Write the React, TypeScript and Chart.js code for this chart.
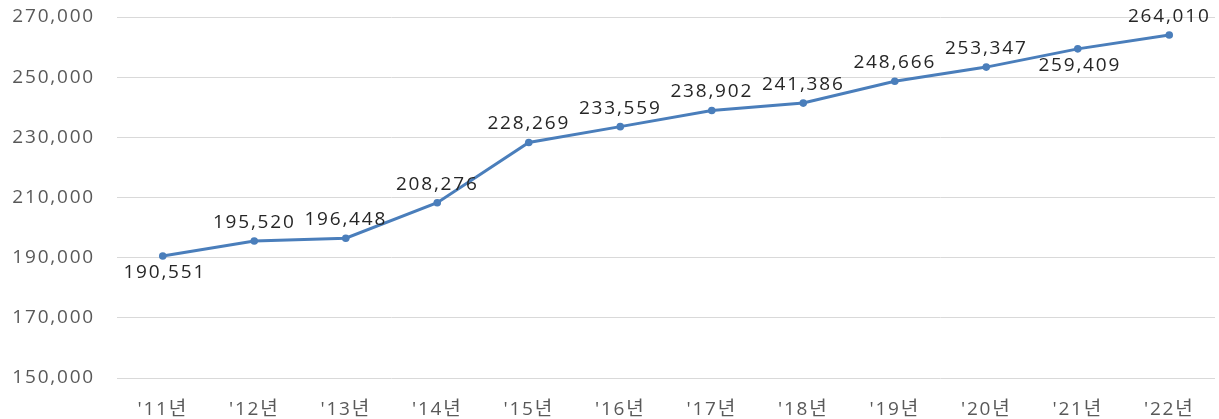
import React, { useEffect, useRef } from "react";
import { Chart, registerables } from "chart.js";

Chart.register(...registerables);

const categories = ["'11년", "'12년", "'13년", "'14년", "'15년", "'16년", "'17년", "'18년", "'19년", "'20년", "'21년", "'22년"];
const values = [190551, 195520, 196448, 208276, 228269, 233559, 238902, 241386, 248666, 253347, 259409, 264010];
const labelBelow = [true, false, false, false, false, false, false, false, false, false, true, false];
const yMin = 150000;
const yMax = 270000;
const yStep = 20000;

const FONT = "'Open Sans', 'Noto Sans CJK KR', sans-serif";

const spacingPlugin = {
  id: "spacing",
  beforeDraw(chart: any) {
    chart.ctx.letterSpacing = "1.8px";
  },
};

const dataLabelPlugin = {
  id: "dataLabels",
  afterDatasetsDraw(chart: any) {
    const ctx = chart.ctx;
    const meta = chart.getDatasetMeta(0);
    ctx.save();
    ctx.letterSpacing = "1.8px";
    ctx.font = `19px ${FONT}`;
    ctx.fillStyle = "#262626";
    ctx.textAlign = "center";
    meta.data.forEach((pt: any, i: number) => {
      const text = values[i].toLocaleString("en-US");
      let x = pt.x;
      const w = ctx.measureText(text).width;
      if (x + w / 2 > chart.width - 6) x = chart.width - 6 - w / 2;
      if (labelBelow[i]) {
        ctx.textBaseline = "top";
        ctx.fillText(text, x + 2, pt.y + 7);
      } else {
        ctx.textBaseline = "bottom";
        ctx.fillText(text, x, pt.y - 9);
      }
    });
    ctx.restore();
  },
};

export default function App() {
  const ref = useRef<HTMLCanvasElement>(null);
  useEffect(() => {
    if (!ref.current) return;
    const chart = new Chart(ref.current, {
      type: "line",
      data: {
        labels: categories,
        datasets: [
          {
            data: values,
            borderColor: "#4a7ebb",
            backgroundColor: "#4a7ebb",
            borderWidth: 3,
            pointRadius: 3.8,
            pointBackgroundColor: "#4a7ebb",
            pointBorderWidth: 0,
            tension: 0,
          },
        ],
      },
      options: {
        animation: false,
        responsive: false,
        maintainAspectRatio: false,
        layout: { padding: { left: 0, right: 4, top: 17, bottom: 0 } },
        plugins: { legend: { display: false }, tooltip: { enabled: false } },
        scales: {
          x: {
            offset: true,
            grid: { display: false, drawTicks: false },
            border: { display: false },
            ticks: { color: "#595959", font: { family: FONT, size: 19 }, padding: 20, maxRotation: 0 },
            afterFit: (s: any) => { s.height = 41; s.paddingLeft = 0; s.paddingRight = 0; },
          },
          y: {
            min: yMin,
            max: yMax,
            grid: { color: "#d9d9d9", drawTicks: false, lineWidth: 1 },
            border: { display: false },
            ticks: {
              stepSize: yStep,
              color: "#595959",
              font: { family: FONT, size: 19 },
              padding: 22,
              callback: (v: any) => Number(v).toLocaleString("en-US"),
            },
            afterFit: (s: any) => { s.width = 117; s.paddingTop = 0; s.paddingBottom = 0; },
          },
        },
      },
      plugins: [spacingPlugin, dataLabelPlugin],
    });
    return () => chart.destroy();
  }, []);
  return (
    <div style={{ position: "fixed", left: 0, top: 0, width: 1219, height: 419, background: "#fff" }}>
      <canvas ref={ref} width={1219} height={419} />
    </div>
  );
}
